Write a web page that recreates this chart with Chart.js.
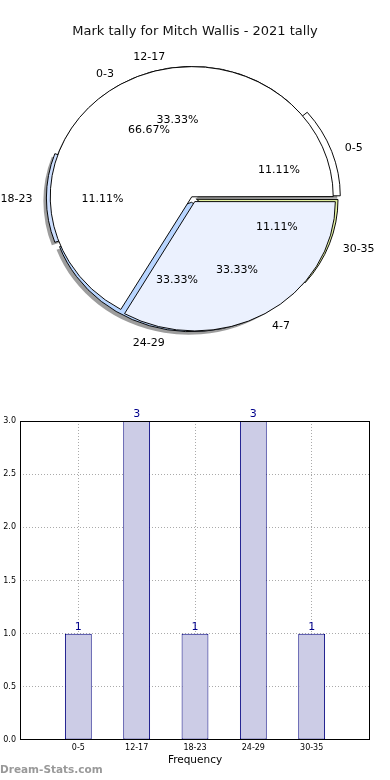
<!DOCTYPE html>
<html>
<head>
<meta charset="utf-8">
<script src="https://cdn.jsdelivr.net/npm/chart.js@4.4.1/dist/chart.umd.min.js"></script>
<style>
body{margin:0;background:#fff;font-family:"DejaVu Sans",sans-serif;}
#page{position:relative;width:390px;height:780px;overflow:hidden;}
#title{position:absolute;left:0;top:22px;width:390px;text-align:center;font-size:13px;line-height:18px;color:#111;}
.pie{position:absolute;left:0;top:0;}
#shadowPie{left:-3px;top:3px;}
#bars{position:absolute;left:0;top:400px;}
#mark{position:absolute;left:0;top:763px;font-size:10.5px;font-weight:bold;color:#999;}
</style>
</head>
<body>
<div id="page">
<canvas id="shadowPie" class="pie" width="390" height="400"></canvas>
<canvas id="agePie" class="pie" width="390" height="400"></canvas>
<canvas id="markPie" class="pie" width="390" height="400"></canvas>
<div id="title">Mark tally for Mitch Wallis - 2021 tally</div>
<canvas id="bars" width="390" height="380"></canvas>
<div id="mark">Dream-Stats.com</div>
</div>
<script>
/* DATA */
const ageGroups = ['0-5', '12-17', '18-23', '24-29', '30-35'];
const ageCounts = [1, 3, 1, 3, 1];
const markGroups = ['0-3', '4-7'];
const markCounts = [6, 3];
const yMax = 3;
const yStep = 0.5;

/* STYLE */
const ageColors = ['#ffffff', '#ffffff', '#cddfff', '#b8d5ff', '#e4f2a0'];
const ageOffsets = [24, 11, 18, 19, 17];
const markColors = ['#ffffff', '#ebf1fe'];
const markOffsets = [6, 18];
const squashY = 0.92;

Chart.defaults.font.family = '"DejaVu Sans"';
Chart.defaults.color = '#000';

/* same shift the arc element uses for its offset */
function shiftOf(arc){
const off = (arc.options.offset || 0) / 4;
const fix = 1 - Math.sin(Math.min(Math.PI, arc.endAngle - arc.startAngle));
return off + off * fix;
}

/* squash pie into an ellipse, counter-clockwise like the original */
const squash = {
id:'squash',
beforeDatasetsDraw(chart){
const arc = chart.getDatasetMeta(0).data[0];
const ctx = chart.ctx;
ctx.save();
ctx.translate(arc.x, arc.y);
ctx.scale(1, -squashY);
ctx.translate(-arc.x, -arc.y);
},
afterDatasetsDraw(chart){
chart.ctx.restore();
}
};

function pieConfig(labels, values, colors, offsets, border){
return {
type:'pie',
data:{
labels:labels,
datasets:[{
data:values,
backgroundColor:colors,
borderColor:'#000',
borderWidth:border,
offset:offsets,
radius:140
}]
},
options:{
responsive:false,
animation:false,
rotation:90,
layout:{padding:{right:5, bottom:4}},
plugins:{legend:{display:false}, tooltip:{enabled:false}}
},
plugins:[squash]
};
}

/* SHADOW */
new Chart(document.getElementById('shadowPie'), pieConfig(ageGroups, ageCounts, 'rgba(60,60,60,0.5)', ageOffsets, 0));

/* AGE PIE */
const agePie = new Chart(document.getElementById('agePie'), pieConfig(ageGroups, ageCounts, ageColors, ageOffsets, 1));

/* MARK PIE + all labels on top */
const pieLabels = {
id:'pieLabels',
afterDraw(chart){
const ctx = chart.ctx;
const sets = [[agePie, ageGroups, ageCounts], [chart, markGroups, markCounts]];
ctx.save();
ctx.font = '11px "DejaVu Sans"';
ctx.fillStyle = '#000';
ctx.textBaseline = 'middle';
sets.forEach(([c, labels, values]) => {
const total = values.reduce((a, b) => a + b, 0);
c.getDatasetMeta(0).data.forEach((arc, i) => {
const mid = (arc.startAngle + arc.endAngle) / 2;
const shift = shiftOf(arc);
const r = arc.outerRadius;
const at = k => [arc.x + Math.cos(mid) * (shift + k * r), arc.y + 1 - squashY * Math.sin(mid) * (shift + k * r)];
let [x, y] = at(1.1);
ctx.textAlign = Math.cos(mid) > 0 ? 'left' : 'right';
ctx.fillText(labels[i], x, y);
[x, y] = at(0.6);
ctx.textAlign = 'center';
ctx.fillText((values[i] / total * 100).toFixed(2) + '%', x, y);
});
});
ctx.restore();
}
};
const markCfg = pieConfig(markGroups, markCounts, markColors, markOffsets, 1);
markCfg.plugins.push(pieLabels);
new Chart(document.getElementById('markPie'), markCfg);


/* BAR CHART */
const barValues = {
id:'barValues',
afterDatasetsDraw(chart){
const ctx = chart.ctx;
const meta = chart.getDatasetMeta(0);
ctx.save();
ctx.font = '11px "DejaVu Sans"';
ctx.fillStyle = '#00008b';
ctx.textAlign = 'center';
ctx.textBaseline = 'bottom';
meta.data.forEach((bar, i) => {
const v = chart.data.datasets[0].data[i];
if (v === null) return;
ctx.fillText(String(v), bar.x, bar.y - 1);
});
ctx.restore();
}
};

const frame = {
id:'frame',
afterDraw(chart){
const a = chart.chartArea;
const ctx = chart.ctx;
ctx.save();
ctx.strokeStyle = '#000';
ctx.lineWidth = 1;
ctx.strokeRect(Math.round(a.left) + 0.5, Math.round(a.top) + 0.5, Math.round(a.right - a.left) - 1, Math.round(a.bottom - a.top) - 1);
ctx.restore();
}
};

const clear = 'rgba(0,0,0,0)';

new Chart(document.getElementById('bars'), {
type:'bar',
data:{
labels:['', ...ageGroups, ''],
datasets:[{
data:[null, ...ageCounts, null],
backgroundColor:'#ccccE6',
borderColor:'#00007f',
borderWidth:1,
borderSkipped:false,
barPercentage:0.46,
categoryPercentage:1
}]
},
options:{
responsive:false,
animation:false,
layout:{padding:{top:21, right:20, left:0, bottom:0}},
plugins:{legend:{display:false}, tooltip:{enabled:false}},
scales:{
x:{
offset:false,
grid:{offset:false, color:c => (c.index > 0 && c.index <= ageGroups.length) ? '#aaa' : clear, drawTicks:false},
border:{display:false, dash:[1,2]},
ticks:{font:{size:8}, color:'#000', padding:3, maxRotation:0, autoSkip:false},
title:{display:true, text:'Frequency', font:{size:10.5}, color:'#000', padding:{top:0, bottom:13}},
afterFit:s => { s.height = 40; }
},
y:{
min:0,
max:yMax,
ticks:{stepSize:yStep, callback:v => v.toFixed(1), font:{size:8}, color:'#000', padding:4},
grid:{color:c => (c.tick && c.tick.value > 0 && c.tick.value < yMax) ? '#aaa' : clear, drawTicks:false},
border:{display:false, dash:[1,2]},
afterFit:s => { s.width = 20; }
}
}
},
plugins:[barValues, frame]
});
</script>
</body>
</html>
